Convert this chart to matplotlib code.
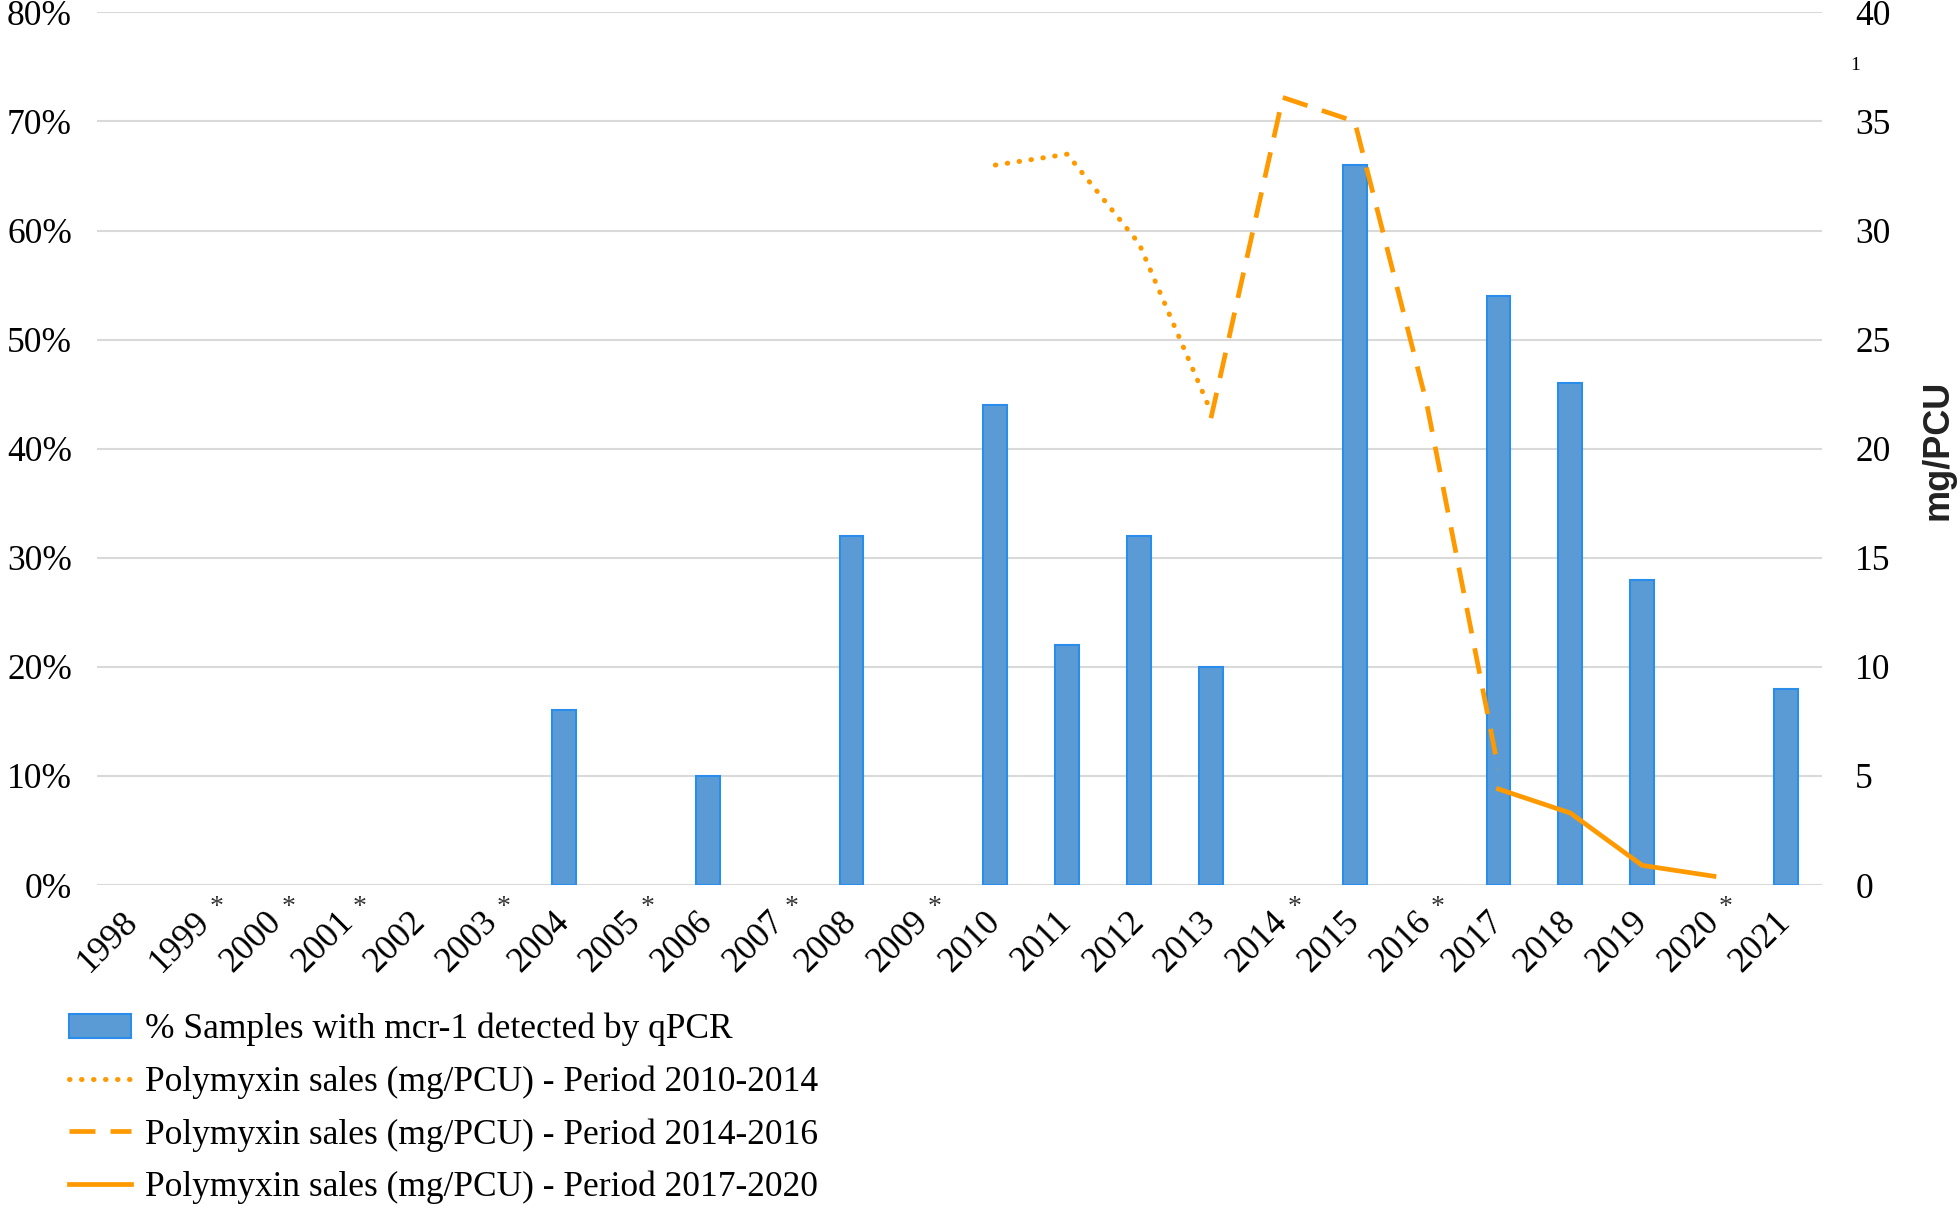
import matplotlib
matplotlib.use("Agg")
import matplotlib.pyplot as plt
import matplotlib.transforms as mtransforms
import numpy as np

# data
years = [str(y) for y in range(1998, 2022)]
starred = ["1999", "2000", "2001", "2003", "2005", "2007", "2009", "2014", "2016", "2020"]
mcr1_pct = [np.nan, np.nan, np.nan, np.nan, np.nan, np.nan, 16, np.nan, 10, np.nan, 32, np.nan,
            44, 22, 32, 20, np.nan, 66, np.nan, 54, 46, 28, np.nan, 18]

sales_2010_2014_years = ["2010", "2011", "2012", "2013"]
sales_2010_2014 = [33.0, 33.5, 29.4, 21.7]
sales_2014_2016_years = ["2013", "2014", "2015", "2016", "2017"]
sales_2014_2016 = [21.4, 36.1, 35.0, 22.1, 5.3]
sales_2017_2020_years = ["2017", "2018", "2019", "2020"]
sales_2017_2020 = [4.4, 3.3, 0.9, 0.4]

serif = "Liberation Serif"
orange = "#FF9900"
bar_face = "#5B9BD5"
bar_edge = "#2A8CEB"
fs = 25.5

fig = plt.figure(figsize=(19.6, 12.12), dpi=100)
ax = fig.add_axes([0.0495, 0.2698, 0.88, 0.72])
ax2 = ax.twinx()

x = np.arange(len(years))
idx = {y: i for i, y in enumerate(years)}

bars = ax.bar(x, mcr1_pct, width=0.33, color=bar_face, edgecolor=bar_edge, linewidth=1.5,
              label="% Samples with mcr-1 detected by qPCR", zorder=2)

l1, = ax2.plot([idx[y] for y in sales_2010_2014_years], sales_2010_2014, color=orange, lw=3.6,
               linestyle=(0, (0.1, 2.3)), dash_capstyle="round",
               label="Polymyxin sales (mg/PCU) - Period 2010-2014")
l2, = ax2.plot([idx[y] for y in sales_2014_2016_years], sales_2014_2016, color=orange, lw=3.4,
               linestyle=(0, (5.5, 3.2)), label="Polymyxin sales (mg/PCU) - Period 2014-2016")
l3, = ax2.plot([idx[y] for y in sales_2017_2020_years], sales_2017_2020, color=orange, lw=3.4,
               label="Polymyxin sales (mg/PCU) - Period 2017-2020")

ax.set_xlim(-0.5, len(years) - 0.5)
ax.set_ylim(0, 80)
ax2.set_ylim(0, 40)
ax.set_yticks(np.arange(0, 81, 10))
ax.set_yticklabels([f"{v}%" for v in range(0, 81, 10)], fontfamily=serif, fontsize=fs)
ax2.set_yticks(np.arange(0, 41, 5))
ax2.set_yticklabels([str(v) for v in range(0, 41, 5)], fontfamily=serif, fontsize=fs)

ax.set_xticks(x)
ax.set_xticklabels(years, rotation=45, ha="right", va="center", rotation_mode="anchor",
                   fontfamily=serif, fontsize=fs)

for a in (ax, ax2):
    for s in a.spines.values():
        s.set_visible(False)
    a.tick_params(length=0)
ax.tick_params(axis="y", pad=18)
ax2.tick_params(axis="y", pad=24)
ax.tick_params(axis="x", pad=23)

ax.grid(axis="y", color="#D9D9D9", linewidth=1.5, zorder=0)
ax.set_axisbelow(True)

# asterisks next to years without samples
trans = mtransforms.blended_transform_factory(ax.transData, ax.transAxes)
for y in starred:
    ax.text(idx[y] + 0.16, -0.026, "*", transform=trans, ha="center", va="center",
            fontfamily=serif, fontsize=20, color="#333333")

fig.text(1855 / 1960, 1 - 65 / 1212, "1", fontfamily=serif, fontsize=14, ha="center", va="center")
fig.text(1938 / 1960, 1 - 450 / 1212, "mg/PCU", rotation=90, ha="center", va="center",
         fontfamily="Liberation Sans", fontweight="bold", fontsize=26, color="#222222")

leg = fig.legend(handles=[bars, l1, l2, l3], loc="upper left", bbox_to_anchor=(0.028, 0.176),
                 frameon=False, prop={"family": serif, "size": fs}, handlelength=1.75,
                 handletextpad=0.4, labelspacing=0.54, borderaxespad=0)

fig.savefig("out.png", dpi=100)
